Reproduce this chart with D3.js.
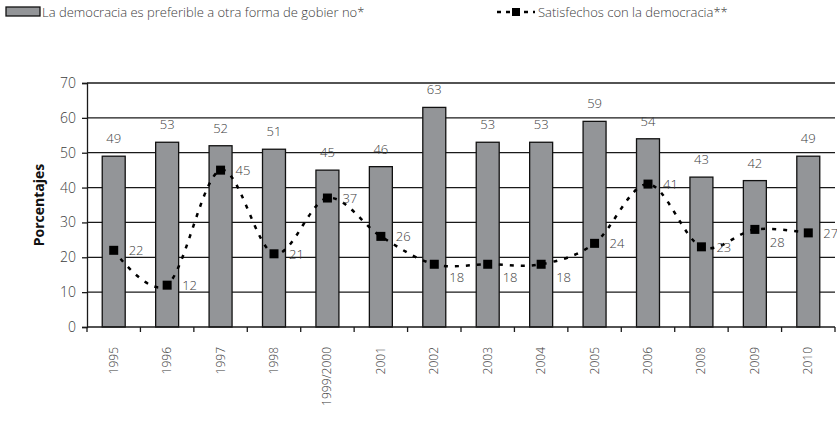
<!DOCTYPE html>
<html lang="es">
    <head>
        <meta charset="utf-8">
        <title>Democracia</title>
        <script src="https://cdn.jsdelivr.net/npm/d3@7"></script>
        <style>
            body { margin: 0; background: white; }
            text { font-family: "Open Sans", sans-serif; }
        </style>
    </head>
    <body>
        <script>
            const years = ["1995","1996","1997","1998","1999/2000","2001","2002","2003","2004","2005","2006","2008","2009","2010"]
            const preferible = [49,53,52,51,45,46,63,53,53,59,54,43,42,49]
            const satisfechos = [22,12,45,21,37,26,18,18,18,24,41,23,28,27]
            const yTicks = [0,10,20,30,40,50,60,70]
            const barName = "La democracia es preferible a otra forma de gobier no*"
            const lineName = "Satisfechos con la democracia**"

            const w = 837
            const h = 421
            const pLeft = 87, pRight = 835, pTop = 83, pBottom = 327
            const txt = "#3c3c3c"

            let svg = d3.select("body").append("svg")
                .attr("width", w)
                .attr("height", h)

            let x = d3.scaleBand().domain(years).range([pLeft, pRight]).paddingInner(0.57).paddingOuter(0.285)
            let xb = d3.scaleBand().domain(years).range([pLeft, pRight])
            let y = d3.scaleLinear().domain([0, 70]).range([pBottom, pTop])
            let cx = i => xb(years[i]) + xb.bandwidth() / 2

            // gridlines
            svg.append("g").selectAll("line")
                .data(yTicks.filter(d => d > 0))
                .enter().append("line")
                    .attr("x1", pLeft).attr("x2", pRight)
                    .attr("y1", d => y(d)).attr("y2", d => y(d))
                    .attr("stroke", "#1a1a1a")
                    .attr("stroke-width", 1.3)

            // y axis
            let yAxis = svg.append("g")
                .attr("transform", `translate(${pLeft},0)`)
                .call(d3.axisLeft(y).tickValues(yTicks).tickSize(5).tickPadding(6))
            yAxis.select(".domain").attr("stroke", "#1a1a1a").attr("stroke-width", 1.3)
            yAxis.selectAll(".tick line").attr("stroke", "#1a1a1a").attr("stroke-width", 1.3)
            yAxis.selectAll("text").attr("font-size", "14px").attr("fill", txt)
                .style("font-family", "'Open Sans', sans-serif").style("font-weight", 300)

            svg.append("text")
                .attr("transform", `translate(44,${(pTop + pBottom) / 2}) rotate(-90)`)
                .attr("text-anchor", "middle")
                .attr("font-size", "14px")
                .attr("font-weight", "bold")
                .attr("fill", "#111")
                .text("Porcentajes")

            // bars
            svg.append("g").selectAll("rect")
                .data(preferible)
                .enter().append("rect")
                    .attr("x", (d, i) => x(years[i]))
                    .attr("y", d => y(d))
                    .attr("width", x.bandwidth())
                    .attr("height", d => y(0) - y(d))
                    .attr("fill", "#939598")
                    .attr("stroke", "#111")
                    .attr("stroke-width", 1.3)

            svg.append("g").selectAll("text")
                .data(preferible)
                .enter().append("text")
                    .attr("x", (d, i) => cx(i))
                    .attr("y", d => y(d) - 13)
                    .attr("text-anchor", "middle")
                    .attr("font-size", "13px")
                    .attr("font-weight", 300)
                    .attr("fill", txt)
                    .text(d => d)

            // x axis
            let xAxis = svg.append("g")
                .attr("transform", `translate(0,${pBottom})`)
            xAxis.append("line")
                .attr("x1", pLeft).attr("x2", pRight)
                .attr("stroke", "#1a1a1a").attr("stroke-width", 1.3)
            xAxis.selectAll(".tk")
                .data(years.concat(["end"]))
                .enter().append("line")
                    .attr("x1", (d, i) => i < years.length ? xb(d) : pRight)
                    .attr("x2", (d, i) => i < years.length ? xb(d) : pRight)
                    .attr("y1", 0).attr("y2", 5)
                    .attr("stroke", "#1a1a1a").attr("stroke-width", 1.3)
            xAxis.selectAll(".lab")
                .data(years)
                .enter().append("text")
                    .attr("transform", (d, i) => `translate(${cx(i) + 4},20) rotate(-90)`)
                    .attr("text-anchor", "end")
                    .attr("font-size", "12px")
                    .attr("font-weight", 300)
                    .attr("fill", txt)
                    .text(d => d)

            // line
            let line = d3.line()
                .x((d, i) => cx(i))
                .y(d => y(d))
                .curve(d3.curveCardinal.tension(0))
            svg.append("path")
                .datum(satisfechos)
                .attr("d", line)
                .attr("fill", "none")
                .attr("stroke", "#000")
                .attr("stroke-width", 2.5)
                .attr("stroke-dasharray", "4,7")

            svg.append("g").selectAll("rect")
                .data(satisfechos)
                .enter().append("rect")
                    .attr("x", (d, i) => cx(i) - 4.5)
                    .attr("y", d => y(d) - 4.5)
                    .attr("width", 9).attr("height", 9)
                    .attr("fill", "#000")

            // labels go under the line where it runs flat
            function flat(i) {
                let d = satisfechos[i]
                return (i + 1 < satisfechos.length && Math.abs(satisfechos[i + 1] - d) <= 1) ||
                       (i > 0 && satisfechos[i - 1] === d)
            }
            svg.append("g").selectAll("text")
                .data(satisfechos)
                .enter().append("text")
                    .attr("x", (d, i) => cx(i) + 15)
                    .attr("y", (d, i) => y(d) + (flat(i) ? 18 : 5))
                    .attr("font-size", "13px")
                    .attr("font-weight", 300)
                    .attr("fill", txt)
                    .text(d => d)

            // legend
            let lg = svg.append("g")
            lg.append("rect")
                .attr("x", 6).attr("y", 7).attr("width", 34).attr("height", 9)
                .attr("fill", "#939598").attr("stroke", "#111").attr("stroke-width", 1.3)
            lg.append("text")
                .attr("x", 42).attr("y", 17)
                .attr("font-size", "13px").attr("font-weight", 300).attr("fill", txt)
                .text(barName)
            lg.append("line")
                .attr("x1", 497).attr("x2", 535).attr("y1", 12).attr("y2", 12)
                .attr("stroke", "#000").attr("stroke-width", 2.5).attr("stroke-dasharray", "4,5")
            lg.append("rect")
                .attr("x", 512).attr("y", 8).attr("width", 8).attr("height", 8)
                .attr("fill", "#000")
            lg.append("text")
                .attr("x", 538).attr("y", 17)
                .attr("font-size", "13px").attr("font-weight", 300).attr("fill", txt)
                .text(lineName)
        </script>
    </body>
</html>
